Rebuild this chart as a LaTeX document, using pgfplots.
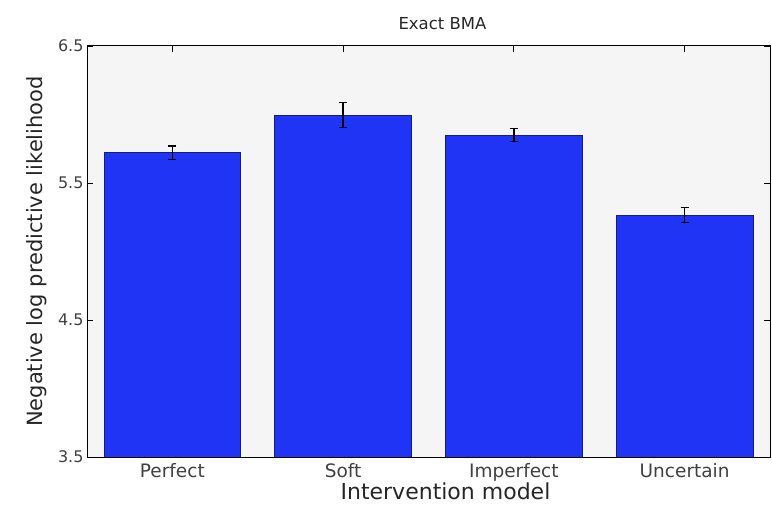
\documentclass[border=0pt]{standalone}
\usepackage{pgfplots}
\pgfplotsset{compat=1.18}
\usepackage{fontspec}
\setmainfont{DejaVu Sans}
\definecolor{barblue}{RGB}{32,52,245}
\definecolor{baredge}{RGB}{20,30,120}
\definecolor{bgray}{RGB}{245,245,245}
\begin{document}
\begin{tikzpicture}
\begin{axis}[name=ax, scale only axis, width=683bp, height=411bp,
  xmin=0.5, xmax=4.5, ymin=3.5, ymax=6.5,
  xtick={1,2,3,4}, xticklabels={Perfect,Soft,Imperfect,Uncertain},
  ytick={3.5,4.5,5.5,6.5},
  /pgf/number format/fixed, /pgf/number format/fixed zerofill, /pgf/number format/precision=1,
  /pgf/number format/assume math mode=true,
  tick align=inside, major tick length=6bp,
  tick style={black, line width=0.8pt},
  axis line style={black, line width=1pt},
  axis background/.style={fill=bgray},
  yticklabel style={font=\fontsize{16bp}{18bp}\selectfont, text=black!75},
  xticklabel style={font=\fontsize{18.5bp}{20bp}\selectfont, text=black!75, yshift=-3bp},
  xlabel style={font=\fontsize{22bp}{24bp}\selectfont, text=black!85, yshift=5bp, xshift=17bp},
  ylabel style={font=\fontsize{21bp}{23bp}\selectfont, text=black!85, yshift=4bp},
  title style={font=\fontsize{16.5bp}{18bp}\selectfont, text=black!85, xshift=14bp, yshift=7bp},
  title={Exact BMA}, xlabel={Intervention model}, ylabel={Negative log predictive likelihood},
]
\addplot[ybar, bar width=0.8, fill=barblue, draw=baredge, line width=0.8pt,
  error bars/.cd, y dir=both, y explicit,
  error bar style={black, line width=1.4pt},
  error mark options={black, mark size=4bp, rotate=90, line width=1.2pt}]
  table[x=x, y=y, y error=e] {
x y e
1 5.72 0.05
2 5.995 0.09
3 5.85 0.05
4 5.265 0.055
};
\end{axis}
\path ([xshift=-87bp, yshift=-54bp]ax.south west) rectangle ([xshift=2bp, yshift=46bp]ax.north east);
\end{tikzpicture}
\end{document}
